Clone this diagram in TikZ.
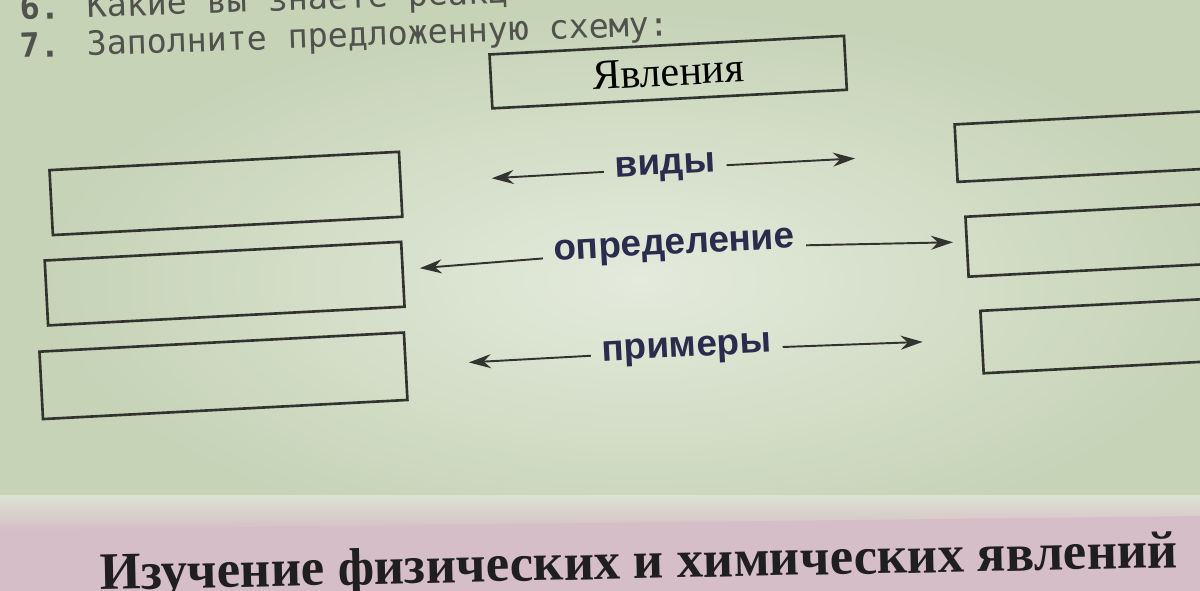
\documentclass[tikz,border=0pt]{standalone}
\usepackage{fontspec}
\setmainfont{Liberation Serif}
\newfontfamily\lblfont{Liberation Sans}
\newfontfamily\questfont{DejaVu Sans Mono}
\usetikzlibrary{arrows.meta,positioning}
\definecolor{paper}{RGB}{198,211,183}
\definecolor{paperlight}{RGB}{228,234,220}
\definecolor{band}{RGB}{214,190,200}
\definecolor{ink}{RGB}{50,50,46}
\definecolor{navy}{RGB}{42,44,78}
\tikzset{
  box/.style={rectangle, draw=ink, line width=1.5pt, inner sep=0pt,
    minimum width=7cm, minimum height=1.3cm},
  rbox/.style={box, anchor=west, minimum width=6cm},
  kind/.style={font=\lblfont\bfseries\fontsize{21}{25}\selectfont,
    text=navy, inner sep=0.22cm},
  quest/.style={font=\questfont\fontsize{19}{22}\selectfont, text=ink!85,
    inner sep=0pt},
  flow/.style={-{Stealth[length=4.4mm, width=2.8mm]}, line width=1.1pt, draw=ink},
}

\begin{document}
\begin{tikzpicture}[x=0.02cm, y=-0.02cm]
\useasboundingbox (0,0) rectangle (1200,591);
\clip (0,0) rectangle (1200,591);
% page
\fill[paper] (0,0) rectangle (1200,591);
\shade[inner color=paperlight, outer color=paper] (640,280) ellipse (600 and 270);
\shade[top color=paperlight!70!paper, bottom color=band] (0,495) rectangle (1200,530);
\fill[band] (0,530) -- (1200,516) -- (1200,591) -- (0,591) -- cycle;
% questions
\node[quest, anchor=base west, rotate=2] (q6) at (20,20) {\textbf{6.} Какие вы знаете реакц};
\node[quest, anchor=base west, rotate=2] (q7) at (20,58) {\textbf{7.} Заполните предложенную схему:};
% scheme
\begin{scope}[rotate around={3:(600,300)}, transform shape]
\node[box, minimum width=7.1cm, minimum height=1.08cm,
  font=\fontsize{24}{27}\selectfont] (phen) at (680,76) {Явления};
\node[box] (b1) at (232,174) {};
\node[box, minimum width=7.14cm] (b2) at (226,264) {};
\node[box, minimum width=7.3cm, minimum height=1.35cm] (b3) at (220,356) {};
\node[rbox, minimum height=1.15cm] (r1) at (962,172) {};
\node[rbox, minimum height=1.2cm] (r2) at (968,266) {};
\node[rbox, minimum height=1.25cm] (r3) at (978,362) {};
\node[kind] (vid) at (672,172) {виды};
\node[kind] (def) at (677,252) {определение};
\node[kind] (ex) at (684,355) {примеры};
\draw[flow, shorten >=1.8cm] (vid) -- (b1);
\draw[flow, shorten >=2cm] (vid) -- (r1);
\draw[flow, shorten >=0.32cm] (def) -- (b2);
\draw[flow, shorten >=0.25cm] (def) -- (r2);
\draw[flow, shorten >=1.24cm] (ex) -- (b3);
\draw[flow, shorten >=1.16cm] (ex) -- (r3);
\end{scope}
% heading
\node[anchor=base west, rotate=1.2, inner sep=0pt, text=black!88,
  font=\bfseries\fontsize{30}{34}\selectfont] (head) at (100,590)
  {Изучение физических и химических явлений};
\end{tikzpicture}
\end{document}
